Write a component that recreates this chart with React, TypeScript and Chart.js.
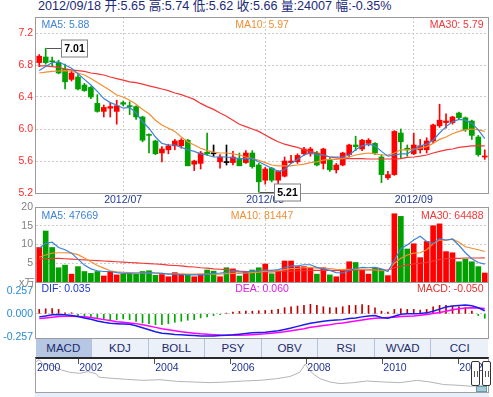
import React, { useEffect, useRef } from "react";
import { Chart, registerables } from "chart.js";

Chart.register(...registerables);

// ---------------- data ----------------
const dates = [
  "2012-06-12","2012-06-13","2012-06-14","2012-06-15","2012-06-18","2012-06-19","2012-06-20","2012-06-21","2012-06-25","2012-06-26",
  "2012-06-27","2012-06-28","2012-06-29","2012-07-02","2012-07-03","2012-07-04","2012-07-05","2012-07-06","2012-07-09","2012-07-10",
  "2012-07-11","2012-07-12","2012-07-13","2012-07-16","2012-07-17","2012-07-18","2012-07-19","2012-07-20","2012-07-23","2012-07-24",
  "2012-07-25","2012-07-26","2012-07-27","2012-07-30","2012-07-31","2012-08-01","2012-08-02","2012-08-03","2012-08-06","2012-08-07",
  "2012-08-08","2012-08-09","2012-08-10","2012-08-13","2012-08-14","2012-08-15","2012-08-16","2012-08-17","2012-08-20","2012-08-21",
  "2012-08-22","2012-08-23","2012-08-24","2012-08-27","2012-08-28","2012-08-29","2012-08-30","2012-08-31","2012-09-03","2012-09-04",
  "2012-09-05","2012-09-06","2012-09-07","2012-09-10","2012-09-11","2012-09-12","2012-09-13","2012-09-14","2012-09-17","2012-09-18",
];

const opens = [
  6.83, 6.90, 6.85, 6.83, 6.75, 6.62, 6.65, 6.55, 6.52, 6.32,
  6.22, 6.26, 6.22, 6.33, 6.29, 6.28, 6.15, 5.93, 5.85, 5.70,
  5.74, 5.79, 5.79, 5.86, 5.56, 5.57, 5.71, 5.69, 5.59, 5.58,
  5.58, 5.62, 5.58, 5.70, 5.55, 5.36, 5.51, 5.36, 5.41, 5.58,
  5.59, 5.69, 5.69, 5.70, 5.57, 5.62, 5.49, 5.55, 5.68, 5.80,
  5.75, 5.82, 5.82, 5.65, 5.39, 5.43, 5.95, 5.76, 5.69, 5.74,
  5.74, 5.85, 6.04, 6.08, 6.08, 6.20, 6.14, 6.10, 5.90, 5.65,
];
const highs = [
  6.93, 7.01, 6.90, 6.86, 6.81, 6.73, 6.68, 6.57, 6.53, 6.43,
  6.30, 6.33, 6.36, 6.35, 6.34, 6.29, 6.16, 5.94, 5.86, 5.78,
  5.81, 5.87, 5.88, 5.87, 5.61, 5.72, 5.95, 5.80, 5.68, 5.80,
  5.72, 5.70, 5.73, 5.73, 5.57, 5.52, 5.52, 5.48, 5.65, 5.67,
  5.69, 5.77, 5.77, 5.72, 5.76, 5.64, 5.57, 5.71, 5.81, 5.91,
  5.87, 5.88, 5.83, 5.68, 5.47, 5.98, 6.00, 5.80, 5.95, 5.87,
  5.89, 6.06, 6.31, 6.19, 6.16, 6.21, 6.15, 6.11, 5.92, 5.74,
];
const lows = [
  6.78, 6.81, 6.79, 6.69, 6.50, 6.60, 6.49, 6.47, 6.38, 6.21,
  6.15, 6.15, 6.06, 6.29, 6.18, 6.12, 5.84, 5.70, 5.68, 5.59,
  5.69, 5.74, 5.76, 5.54, 5.48, 5.50, 5.67, 5.66, 5.51, 5.55,
  5.55, 5.54, 5.57, 5.51, 5.21, 5.31, 5.34, 5.30, 5.40, 5.57,
  5.57, 5.67, 5.66, 5.54, 5.50, 5.47, 5.45, 5.54, 5.65, 5.73,
  5.73, 5.79, 5.68, 5.33, 5.37, 5.42, 5.63, 5.66, 5.68, 5.70,
  5.70, 5.83, 6.02, 6.01, 6.06, 6.13, 5.97, 5.87, 5.66, 5.62,
];
const closes = [
  6.91, 6.83, 6.84, 6.70, 6.59, 6.70, 6.50, 6.48, 6.40, 6.22,
  6.27, 6.28, 6.29, 6.31, 6.28, 6.15, 5.86, 5.92, 5.69, 5.75,
  5.79, 5.85, 5.86, 5.54, 5.60, 5.70, 5.69, 5.69, 5.65, 5.58,
  5.65, 5.54, 5.70, 5.53, 5.34, 5.50, 5.36, 5.47, 5.60, 5.60,
  5.67, 5.75, 5.75, 5.55, 5.75, 5.49, 5.55, 5.70, 5.80, 5.78,
  5.86, 5.86, 5.70, 5.43, 5.43, 5.97, 5.84, 5.74, 5.80, 5.79,
  5.85, 6.05, 6.11, 6.10, 6.15, 6.14, 5.99, 5.92, 5.68, 5.66,
];

const ma5 = [
  6.73, 6.78, 6.83, 6.84, 6.80, 6.76, 6.69, 6.62, 6.55, 6.47,
  6.38, 6.33, 6.30, 6.26, 6.27, 6.20, 6.09, 6.01, 5.90, 5.82,
  5.80, 5.80, 5.77, 5.74, 5.72, 5.69, 5.675, 5.65, 5.65, 5.65,
  5.64, 5.63, 5.63, 5.63, 5.59, 5.55, 5.51, 5.47, 5.49, 5.57,
  5.62, 5.675, 5.70, 5.675, 5.675, 5.65, 5.65, 5.65, 5.675, 5.74,
  5.79, 5.81, 5.79, 5.72, 5.66, 5.675, 5.69, 5.69, 5.74, 5.79,
  5.81, 5.86, 5.95, 6.03, 6.09, 6.12, 6.11, 6.07, 5.99, 5.88,
];
const ma10 = [
  6.70, 6.71, 6.72, 6.725, 6.73, 6.725, 6.70, 6.675, 6.63, 6.58,
  6.53, 6.48, 6.425, 6.40, 6.36, 6.31, 6.245, 6.19, 6.11, 6.05,
  6.01, 5.97, 5.90, 5.84, 5.80, 5.76, 5.73, 5.71, 5.70, 5.70,
  5.69, 5.675, 5.65, 5.63, 5.61, 5.58, 5.55, 5.54, 5.54, 5.54,
  5.55, 5.56, 5.58, 5.59, 5.61, 5.62, 5.62, 5.63, 5.65, 5.675,
  5.69, 5.70, 5.69, 5.675, 5.675, 5.70, 5.74, 5.74, 5.75, 5.76,
  5.78, 5.82, 5.87, 5.90, 5.94, 5.97, 5.99, 6.00, 5.99, 5.97,
];
const ma30 = [
  6.79, 6.79, 6.78, 6.77, 6.75, 6.74, 6.73, 6.72, 6.70, 6.69,
  6.675, 6.65, 6.63, 6.61, 6.59, 6.58, 6.56, 6.54, 6.52, 6.50,
  6.48, 6.45, 6.43, 6.40, 6.37, 6.32, 6.28, 6.245, 6.20, 6.16,
  6.11, 6.06, 6.03, 6.00, 5.97, 5.925, 5.88, 5.84, 5.81, 5.79,
  5.77, 5.74, 5.72, 5.70, 5.675, 5.65, 5.64, 5.63, 5.63, 5.63,
  5.63, 5.625, 5.625, 5.625, 5.625, 5.625, 5.63, 5.645, 5.65, 5.66,
  5.675, 5.70, 5.72, 5.74, 5.75, 5.77, 5.78, 5.79, 5.79, 5.79,
];

// volume in 万 (10k)
const volumes = [
  9.2, 13.6, 9.2, 3.8, 4.5, 2.1, 4.1, 2.8, 2.3, 2.8,
  1.6, 2.8, 1.9, 2.1, 2.1, 2.1, 2.8, 3.0, 1.8, 2.0,
  1.4, 2.5, 2.0, 1.8, 1.4, 2.1, 3.2, 2.9, 1.4, 3.8,
  3.5, 1.6, 2.8, 3.2, 3.8, 4.8, 2.2, 3.0, 5.6, 5.6,
  4.1, 4.1, 3.7, 2.1, 3.8, 1.9, 1.4, 2.9, 5.4, 5.2,
  3.2, 2.1, 3.8, 3.4, 1.7, 18.2, 17.5, 8.8, 10.2, 6.5,
  10.8, 15.0, 15.5, 8.1, 7.8, 5.4, 6.1, 5.4, 4.1, 2.4,
];
const volMa5 = [
  9.0, 10.3, 10.6, 9.2, 8.6, 7.7, 6.1, 4.5, 3.5, 3.0,
  2.8, 2.8, 2.5, 2.3, 2.3, 2.4, 2.4, 2.5, 2.4, 2.3,
  2.1, 2.1, 2.0, 1.9, 1.9, 1.9, 2.1, 2.3, 2.4, 2.6,
  2.8, 2.7, 2.6, 2.9, 3.0, 3.2, 3.1, 3.3, 3.8, 4.3,
  4.3, 4.6, 4.6, 3.9, 3.5, 3.1, 2.5, 2.4, 3.1, 3.6,
  3.9, 3.8, 3.9, 3.5, 2.8, 5.8, 8.9, 9.9, 11.2, 12.2,
  10.8, 10.3, 11.5, 11.2, 11.4, 9.8, 7.8, 6.2, 5.2, 4.77,
];
const volMa10 = [
  6.6, 7.2, 7.7, 7.8, 7.8, 7.7, 7.3, 6.4, 5.4, 4.4,
  3.7, 3.0, 2.7, 2.6, 2.5, 2.4, 2.4, 2.4, 2.4, 2.3,
  2.2, 2.2, 2.2, 2.1, 2.1, 2.1, 2.1, 2.1, 2.1, 2.2,
  2.3, 2.3, 2.4, 2.5, 2.6, 2.9, 2.9, 3.0, 3.3, 3.6,
  3.6, 3.8, 3.9, 3.7, 3.7, 3.6, 3.4, 3.3, 3.4, 3.4,
  3.4, 3.3, 3.2, 3.0, 3.1, 5.0, 6.3, 7.2, 7.7, 7.8,
  8.6, 10.2, 11.2, 11.1, 11.5, 10.6, 9.4, 9.0, 8.6, 8.14,
];
const volMa30 = [
  6.1, 6.2, 6.3, 6.3, 6.2, 6.1, 6.0, 5.9, 5.8, 5.7,
  5.6, 5.5, 5.4, 5.3, 5.2, 5.1, 5.0, 4.9, 4.8, 4.7,
  4.5, 4.4, 4.3, 4.1, 4.0, 3.8, 3.7, 3.5, 3.4, 3.3,
  3.1, 2.9, 2.8, 2.7, 2.7, 2.7, 2.7, 2.8, 2.9, 2.9,
  3.0, 3.0, 3.1, 3.1, 3.1, 3.1, 3.1, 3.1, 3.1, 3.2,
  3.2, 3.2, 3.2, 3.2, 3.2, 3.8, 4.2, 4.5, 4.8, 5.0,
  5.2, 5.6, 6.0, 6.2, 6.3, 6.3, 6.4, 6.4, 6.4, 6.45,
];

const dif = [
  -0.034, -0.023, -0.011, -0.008, -0.011, -0.019, -0.030, -0.046, -0.061, -0.080,
  -0.095, -0.107, -0.110, -0.114, -0.118, -0.133, -0.156, -0.179, -0.202, -0.217,
  -0.225, -0.232, -0.236, -0.240, -0.244, -0.248, -0.248, -0.248, -0.244, -0.240,
  -0.236, -0.229, -0.221, -0.213, -0.210, -0.206, -0.198, -0.190, -0.175, -0.160,
  -0.141, -0.122, -0.107, -0.095, -0.084, -0.076, -0.069, -0.065, -0.053, -0.046,
  -0.034, -0.023, -0.019, -0.042, -0.050, -0.027, -0.004, 0.000, 0.000, 0.004,
  0.011, 0.030, 0.053, 0.076, 0.088, 0.095, 0.099, 0.091, 0.069, 0.035,
];
const dea = [
  -0.053, -0.046, -0.038, -0.030, -0.027, -0.027, -0.030, -0.034, -0.042, -0.053,
  -0.065, -0.076, -0.088, -0.095, -0.103, -0.110, -0.122, -0.137, -0.152, -0.168,
  -0.179, -0.190, -0.202, -0.210, -0.217, -0.225, -0.230, -0.234, -0.238, -0.240,
  -0.240, -0.240, -0.238, -0.234, -0.229, -0.225, -0.217, -0.210, -0.202, -0.190,
  -0.179, -0.168, -0.152, -0.141, -0.130, -0.122, -0.110, -0.103, -0.091, -0.080,
  -0.069, -0.057, -0.050, -0.046, -0.042, -0.038, -0.030, -0.027, -0.023, -0.015,
  -0.008, 0.004, 0.015, 0.030, 0.046, 0.057, 0.065, 0.069, 0.065, 0.060,
];
const macdHist = [
  0.050, 0.057, 0.060, 0.050, 0.012, 0.012, -0.027, -0.027, -0.034, -0.046,
  -0.065, -0.072, -0.065, -0.057, -0.065, -0.084, -0.103, -0.110, -0.122, -0.122,
  -0.110, -0.095, -0.084, -0.072, -0.065, -0.046, -0.034, -0.019, -0.008, 0.008,
  0.020, 0.027, 0.030, 0.030, 0.035, 0.038, 0.042, 0.050, 0.069, 0.080,
  0.088, 0.095, 0.107, 0.095, 0.080, 0.069, 0.069, 0.080, 0.095, 0.095,
  0.103, 0.095, 0.069, 0.030, 0.019, 0.050, 0.057, 0.050, 0.050, 0.042,
  0.050, 0.080, 0.095, 0.095, 0.088, 0.080, 0.069, 0.030, -0.019, -0.050,
];

const priceTicks = [5.2, 5.6, 6.0, 6.4, 6.8, 7.2];
const volumeTicks = [5, 10, 15, 20];
const macdTicks = [-0.257, 0, 0.257];

const navYears = [
  2000.89, 2000.97, 2001.08, 2001.34, 2001.56, 2001.78, 2002.04, 2002.26, 2002.48, 2002.54,
  2002.83, 2003.27, 2003.71, 2004.15, 2004.59, 2005.03, 2005.47, 2005.91, 2006.34, 2006.78,
  2007.22, 2007.57, 2007.83, 2007.97, 2008.06, 2008.18, 2008.36, 2008.62, 2008.89, 2009.24,
  2009.59, 2010.03, 2010.47, 2010.91, 2011.26, 2011.61, 2011.96, 2012.31, 2012.71,
];
const navPrices = [
  27.6, 29.4, 25.3, 23.8, 20.0, 17.9, 17.0, 18.5, 16.5, 13.5,
  12.6, 11.5, 10.6, 11.2, 9.7, 9.1, 8.5, 9.1, 10.0, 10.6,
  12.1, 14.1, 17.9, 25.3, 20.9, 16.5, 12.1, 9.1, 7.6, 8.5,
  10.0, 9.1, 8.5, 10.6, 9.1, 6.8, 6.2, 5.3, 5.66,
];
const navTickYears = [2000, 2002, 2004, 2006, 2008, 2010, 2012];

const headerText = "2012/09/18 开:5.65 高:5.74 低:5.62 收:5.66 量:24007 幅:-0.35%";
const priceLegend = ["MA5: 5.88", "MA10: 5.97", "MA30: 5.79"];
const volumeLegend = ["MA5: 47669", "MA10: 81447", "MA30: 64488"];
const macdLegend = ["DIF: 0.035", "DEA: 0.060", "MACD: -0.050"];
const volumeUnit = "x万";
const tabs = ["MACD", "KDJ", "BOLL", "PSY", "OBV", "RSI", "WVAD", "CCI"];

// ---------------- styles ----------------
const FONT = "'Liberation Sans', Arial, 'Noto Sans CJK SC', sans-serif";
const RED = "#ff0000";
const GREEN = "#00a000";
const C_MA5 = "#3d84d6";
const C_MA10 = "#f28e33";
const C_MA30 = "#f43636";
const GRID = "#cccccc";
const FRAME = "#9a9a9a";
const DATE_COLOR = "#22399a";
const CLEAR = "rgba(0,0,0,0)";

const isMonthStart = (i: number) => i > 0 && dates[i].slice(0, 7) !== dates[i - 1].slice(0, 7);
const monthLabel = (i: number) => dates[i].slice(0, 7).replace("-", "/");
const candleColor = (i: number) =>
  closes[i] > opens[i] ? RED : closes[i] < opens[i] ? GREEN : "#000000";
const volColor = (i: number) => (closes[i] > opens[i] ? RED : GREEN);

function xScale(showLabels: boolean, showGrid: boolean) {
  return {
    type: "category",
    offset: true,
    display: true,
    grid: { display: showGrid, offset: false, color: GRID, drawTicks: false },
    border: { display: false, dash: [2, 2] },
    ticks: {
      display: showLabels,
      autoSkip: false,
      maxRotation: 0,
      minRotation: 0,
      padding: 1,
      color: DATE_COLOR,
      font: { family: FONT, size: 10.5 },
      callback: (v: any) => monthLabel(Number(v)),
    },
    afterBuildTicks: (s: any) => {
      s.ticks = s.ticks.filter((t: any) => isMonthStart(t.value));
    },
    afterFit: (s: any) => {
      s.height = showLabels ? 14 : 0;
    },
  };
}

function yScale(
  min: number,
  max: number,
  tickValues: number[],
  color: string,
  fmt: (v: number) => string,
  gridFor: (v: number) => boolean
) {
  return {
    min,
    max,
    grid: {
      color: (c: any) => (c.tick && gridFor(c.tick.value) ? GRID : CLEAR),
      drawTicks: false,
    },
    border: { display: false, dash: [2, 2] },
    ticks: {
      color,
      padding: 3,
      font: { family: FONT, size: 10.5 },
      callback: (v: any) => fmt(Number(v)),
    },
    afterBuildTicks: (s: any) => {
      s.ticks = tickValues.map((v) => ({ value: v }));
    },
    afterFit: (s: any) => {
      s.width = 36;
    },
  };
}

const framePlugin = {
  id: "frame",
  afterDraw(chart: any) {
    const { ctx, chartArea: a } = chart;
    ctx.save();
    ctx.strokeStyle = FRAME;
    ctx.lineWidth = 1;
    ctx.strokeRect(a.left - 0.5, a.top + 0.5, a.right - a.left + 1, a.bottom - a.top);
    ctx.restore();
  },
};

const calloutPlugin = {
  id: "callouts",
  afterDraw(chart: any) {
    const { ctx, scales } = chart;
    const xs = scales.x;
    const ys = scales.y;
    const hi = Math.max(...highs);
    const lo = Math.min(...lows);
    const marks: [number, number][] = [
      [highs.indexOf(hi), hi],
      [lows.indexOf(lo), lo],
    ];
    ctx.save();
    marks.forEach(([i, v]) => {
      const px = Math.round(xs.getPixelForValue(i)) + 0.5;
      const py = Math.round(ys.getPixelForValue(v)) + 0.5;
      const bx = px + 15;
      const bw = 26;
      const bh = 17;
      ctx.strokeStyle = "#555";
      ctx.lineWidth = 1;
      ctx.beginPath();
      ctx.moveTo(px, py);
      ctx.lineTo(bx, py);
      ctx.stroke();
      ctx.fillStyle = "#fff";
      ctx.fillRect(bx, py - bh / 2, bw, bh);
      ctx.strokeStyle = "#808080";
      ctx.strokeRect(bx, py - bh / 2, bw, bh);
      ctx.fillStyle = "#000";
      ctx.font = `bold 10.5px ${FONT}`;
      ctx.textAlign = "center";
      ctx.textBaseline = "middle";
      ctx.fillText(v.toFixed(2), bx + bw / 2, py + 0.5);
    });
    ctx.restore();
  },
};

const navAxisPlugin = {
  id: "navAxis",
  afterDraw(chart: any) {
    const { ctx, chartArea: a, scales } = chart;
    const xs = scales.x;
    ctx.save();
    ctx.font = `10.5px ${FONT}`;
    ctx.fillStyle = "#1f3494";
    ctx.textBaseline = "middle";
    ctx.textAlign = "left";
    ctx.strokeStyle = "#555";
    ctx.lineWidth = 1;
    navTickYears.forEach((yr) => {
      const px = xs.getPixelForValue(yr);
      if (px > a.left + 2) {
        const sx = Math.round(px) + 0.5;
        ctx.beginPath();
        ctx.moveTo(sx, a.top);
        ctx.lineTo(sx, a.top + 5);
        ctx.stroke();
        ctx.fillText(String(yr), px + 1, a.top + 9);
      } else {
        ctx.fillText(String(yr), a.left + 1, a.top + 9);
      }
    });
    ctx.restore();
  },
};

const baseOptions = {
  responsive: false,
  maintainAspectRatio: false,
  animation: false,
  devicePixelRatio: 1,
  events: [],
  plugins: { legend: { display: false }, tooltip: { enabled: false } },
};

function Label(props: { x: number; y: number; align: string; color: string; text: string; size?: number }) {
  const { x, y, align, color, text, size } = props;
  const style: any = {
    position: "absolute",
    top: y,
    whiteSpace: "nowrap",
    color,
    fontSize: size || 10.5,
    lineHeight: "12px",
    fontFamily: FONT,
  };
  if (align === "left") style.left = x;
  else if (align === "right") style.right = 493 - x;
  else {
    style.left = x;
    style.transform = "translateX(-50%)";
  }
  return <div style={style}>{text}</div>;
}

export default function App() {
  const priceRef = useRef<HTMLCanvasElement>(null);
  const volRef = useRef<HTMLCanvasElement>(null);
  const macdRef = useRef<HTMLCanvasElement>(null);
  const navRef = useRef<HTMLCanvasElement>(null);

  useEffect(() => {
    const charts: any[] = [];
    const cColors = dates.map((_, i) => candleColor(i));
    const vColors = dates.map((_, i) => volColor(i));
    const lineDs = (label: string, data: number[], color: string, width = 1.2) => ({
      type: "line",
      label,
      data,
      borderColor: color,
      borderWidth: width,
      pointRadius: 0,
      tension: 0,
      order: 0,
    });

    if (priceRef.current) {
      charts.push(
        new Chart(priceRef.current, {
          type: "bar",
          data: {
            labels: dates,
            datasets: [
              lineDs("MA5", ma5, C_MA5),
              lineDs("MA10", ma10, C_MA10),
              lineDs("MA30", ma30, C_MA30),
              {
                type: "bar",
                label: "body",
                data: opens.map((o, i) => [o, closes[i]]),
                backgroundColor: cColors,
                barThickness: 5,
                minBarLength: 1,
                grouped: false,
                order: 2,
              },
              {
                type: "bar",
                label: "wick",
                data: lows.map((l, i) => [l, highs[i]]),
                backgroundColor: cColors,
                barThickness: 1,
                grouped: false,
                order: 3,
              },
            ],
          } as any,
          options: {
            ...baseOptions,
            layout: { padding: { top: 10, right: 5, bottom: 0, left: 0 } },
            scales: {
              x: xScale(true, true),
              y: yScale(5.2, 7.4, priceTicks, "#ff2a2a", (v) => v.toFixed(1), (v) => v > 5.25),
            },
          } as any,
          plugins: [framePlugin, calloutPlugin],
        })
      );
    }

    if (volRef.current) {
      charts.push(
        new Chart(volRef.current, {
          type: "bar",
          data: {
            labels: dates,
            datasets: [
              lineDs("MA5", volMa5, C_MA5),
              lineDs("MA10", volMa10, C_MA10),
              lineDs("MA30", volMa30, C_MA30),
              {
                type: "bar",
                label: "volume",
                data: volumes,
                backgroundColor: vColors,
                barThickness: 5,
                grouped: false,
                order: 2,
              },
            ],
          } as any,
          options: {
            ...baseOptions,
            layout: { padding: { top: 10, right: 5, bottom: 10, left: 0 } },
            scales: {
              x: xScale(false, true),
              y: yScale(0, 20, volumeTicks, "#808080", (v) => String(v), (v) => v < 19),
            },
          } as any,
          plugins: [framePlugin],
        })
      );
    }

    if (macdRef.current) {
      charts.push(
        new Chart(macdRef.current, {
          type: "bar",
          data: {
            labels: dates,
            datasets: [
              lineDs("DIF", dif, "#1c1ce8", 1.5),
              lineDs("DEA", dea, "#ff00ff", 1.5),
              {
                type: "bar",
                label: "MACD",
                data: macdHist,
                backgroundColor: macdHist.map((v) => (v >= 0 ? "#c00000" : "#00aa00")),
                barThickness: 1,
                grouped: false,
                order: 2,
              },
            ],
          } as any,
          options: {
            ...baseOptions,
            layout: { padding: { top: 10, right: 5, bottom: 10, left: 0 } },
            scales: {
              x: { type: "category", offset: true, display: false },
              y: yScale(-0.2716, 0.358, macdTicks, "#2a8ad2", (v) => v.toFixed(3), (v) => Math.abs(v) < 0.001),
            },
          } as any,
          plugins: [framePlugin],
        })
      );
    }

    if (navRef.current) {
      charts.push(
        new Chart(navRef.current, {
          type: "line",
          data: {
            datasets: [
              {
                label: "history",
                data: navYears.map((y, i) => ({ x: y, y: navPrices[i] })),
                borderColor: "#b4b4b4",
                borderWidth: 1,
                pointRadius: 0,
                tension: 0,
              },
            ],
          } as any,
          options: {
            ...baseOptions,
            layout: { padding: 0 },
            scales: {
              x: { type: "linear", min: 2000.89, max: 2012.78, display: false },
              y: { min: 0, max: 30, display: false },
            },
          } as any,
          plugins: [navAxisPlugin],
        })
      );
    }

    return () => {
      charts.forEach((c) => c.destroy());
    };
  }, []);

  const tabW = (488 - 35.5) / tabs.length;

  return (
    <div
      style={{
        position: "absolute",
        left: 0,
        top: 0,
        width: 493,
        height: 397,
        overflow: "hidden",
        background: "#fff",
        fontFamily: FONT,
      }}
    >
      <div
        style={{
          position: "absolute",
          left: 38,
          top: -1,
          fontSize: 12.6,
          lineHeight: "14px",
          color: "#1b2a78",
          whiteSpace: "nowrap",
          fontFamily: FONT,
        }}
      >
        {headerText}
      </div>

      <canvas ref={priceRef} width={493} height={200} style={{ position: "absolute", left: 0, top: 7, width: 493, height: 200 }} />
      <canvas ref={volRef} width={493} height={95} style={{ position: "absolute", left: 0, top: 197, width: 493, height: 95 }} />
      <canvas ref={macdRef} width={493} height={76} style={{ position: "absolute", left: 0, top: 272, width: 493, height: 76 }} />

      <Label x={41.5} y={18} align="left" color={C_MA5} text={priceLegend[0]} />
      <Label x={262} y={18} align="center" color={C_MA10} text={priceLegend[1]} />
      <Label x={483.5} y={18} align="right" color={C_MA30} text={priceLegend[2]} />

      <Label x={41.5} y={209} align="left" color={C_MA5} text={volumeLegend[0]} />
      <Label x={262} y={209} align="center" color={C_MA10} text={volumeLegend[1]} />
      <Label x={483.5} y={209} align="right" color={C_MA30} text={volumeLegend[2]} />
      <Label x={19} y={276} align="left" color="#808080" text={volumeUnit} />

      <Label x={41.5} y={282} align="left" color="#1c3ad8" text={macdLegend[0]} />
      <Label x={262} y={282} align="center" color="#e020e0" text={macdLegend[1]} />
      <Label x={483.5} y={282} align="right" color="#e83030" text={macdLegend[2]} />

      {tabs.map((t, i) => (
        <div
          key={t}
          style={{
            position: "absolute",
            left: 35.5 + i * tabW,
            top: 339,
            width: tabW,
            height: 18,
            lineHeight: "18px",
            textAlign: "center",
            fontSize: 11.5,
            color: "#1d2b6b",
            background: i === 0 ? "#b6c7e3" : "#ebf0f9",
            borderRight: i < tabs.length - 1 ? "1px solid #b3c2dd" : "none",
            boxSizing: "border-box",
            fontFamily: FONT,
          }}
        >
          {t}
        </div>
      ))}

      <div
        style={{
          position: "absolute",
          left: 35,
          top: 357,
          width: 454,
          height: 36,
          borderTop: "2px solid #2a2a2a",
          borderLeft: "1px solid #a0a0a0",
          borderRight: "1px solid #a0a0a0",
          borderBottom: "1px solid #a0a0a0",
          boxSizing: "border-box",
        }}
      />
      <canvas ref={navRef} width={452} height={33} style={{ position: "absolute", left: 36, top: 359, width: 452, height: 33 }} />
      <div style={{ position: "absolute", left: 35, top: 393, width: 454, height: 4, background: "#e6eef9" }} />

      <div style={{ position: "absolute", left: 476, top: 386, width: 11, height: 6, background: "#a7ccd9", border: "1px solid #6a9aaa", boxSizing: "border-box" }} />
      {[471, 482].map((hx) => (
        <div
          key={hx}
          style={{
            position: "absolute",
            left: hx,
            top: 361,
            width: 9,
            height: 25,
            background: "#fff",
            border: "1px solid #333",
            borderRadius: 2,
            boxSizing: "border-box",
          }}
        >
          <div style={{ position: "absolute", left: 2, top: 9, width: 1, height: 6, background: "#555" }} />
          <div style={{ position: "absolute", left: 5, top: 9, width: 1, height: 6, background: "#555" }} />
        </div>
      ))}
    </div>
  );
}
